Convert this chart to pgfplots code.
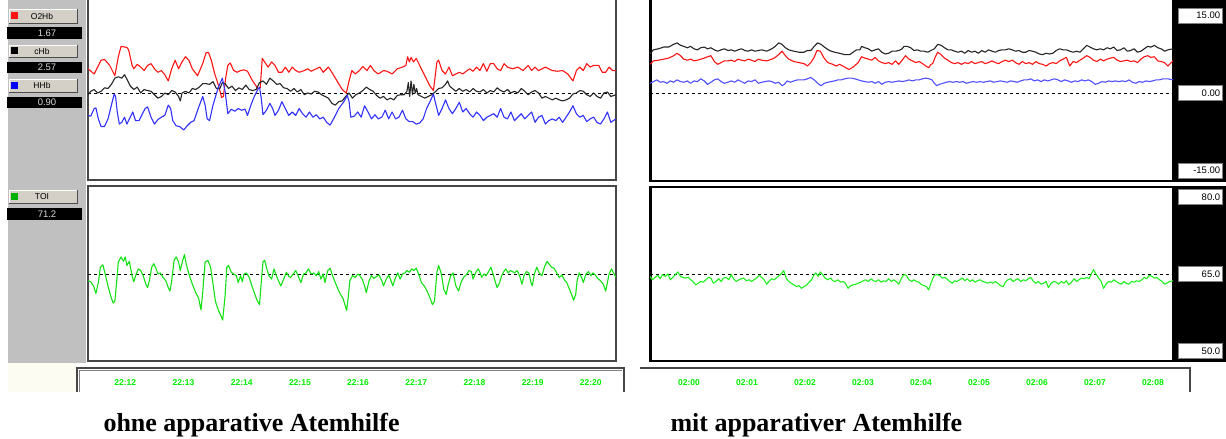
\documentclass[border=0pt]{standalone}
\usepackage{fontspec}
\setmainfont{Liberation Sans}
\newfontfamily\capfont{Liberation Serif}
\usepackage{pgfplots}
\usepackage{pgfplotstable}
\pgfplotsset{compat=1.18}
\definecolor{sidegray}{RGB}{192,192,192}
\definecolor{btngray}{RGB}{212,208,200}
\definecolor{o2red}{RGB}{255,20,20}
\definecolor{hhbblue}{RGB}{50,50,255}
\definecolor{hhbblueR}{RGB}{80,80,255}
\definecolor{toigreen}{RGB}{20,225,20}
\definecolor{toigreenR}{RGB}{30,240,30}
\definecolor{tickgreen}{RGB}{0,240,0}
\definecolor{frameL}{RGB}{70,70,70}
\definecolor{cream}{RGB}{252,252,242}

% ---------------- data (x = sample index, y = chart values) ----------------
\pgfplotstableread{
x y
12 4.67
30 3.67
50 6.33
60 6.47
75 5.33
90 3.33
100 7.00
108 9.00
125 8.80
130 8.33
140 5.33
145 4.67
155 5.53
165 5.00
175 4.33
185 5.33
195 5.67
205 4.67
215 4.00
225 4.33
235 3.53
245 2.33
255 4.67
265 6.33
275 4.67
285 6.00
295 7.00
305 6.33
315 4.67
330 3.33
345 5.67
355 7.80
362 7.80
370 6.33
380 3.67
390 1.67
400 -0.87
405 -0.67
412 3.00
418 5.33
425 5.80
435 4.33
445 4.00
455 4.33
465 4.47
475 4.20
490 2.33
505 0.87
512 1.00
518 6.67
525 6.00
535 5.00
545 6.00
555 5.33
565 4.00
575 4.00
585 5.00
595 4.00
605 5.00
615 4.33
625 4.00
640 4.33
650 4.67
660 4.20
670 4.53
685 5.00
695 4.00
710 5.00
720 4.00
735 2.33
750 0.67
762 0.00
770 2.33
778 4.33
788 3.67
800 4.33
810 5.13
822 4.33
832 5.33
842 4.33
855 3.67
870 4.33
880 4.20
895 3.67
910 4.67
925 5.00
935 5.33
940 7.00
945 6.00
950 6.87
957 6.00
965 6.67
975 5.33
990 3.33
1005 1.33
1015 0.47
1025 6.00
1030 6.33
1040 4.33
1050 3.67
1060 5.00
1070 3.33
1080 3.67
1090 4.00
1100 3.67
1110 4.20
1120 4.67
1130 4.20
1140 5.00
1150 4.33
1160 5.67
1170 4.20
1180 5.67
1190 5.67
1200 4.67
1210 4.33
1220 5.67
1230 5.00
1245 4.67
1260 5.00
1275 4.33
1290 5.33
1300 4.33
1310 5.00
1320 4.33
1340 5.00
1360 4.33
1375 4.20
1390 4.33
1405 3.67
1420 2.33
1430 4.33
1440 5.00
1450 4.33
1460 5.67
1470 5.00
1480 5.33
1495 5.33
1505 4.00
1515 4.00
1525 5.00
1535 4.33
1545 4.33
}\LeftOxy
\pgfplotstableread{
x y
12 -0.33
20 0.33
30 0.67
40 0.00
50 0.33
60 1.00
70 0.87
80 1.67
90 2.87
100 3.13
110 2.87
118 3.53
125 2.67
135 1.33
145 0.67
155 1.13
165 0.00
175 0.67
185 0.47
195 0.33
205 -0.33
215 -1.00
225 -0.67
235 0.00
245 -0.33
255 0.47
265 0.20
275 -0.67
280 -1.53
285 0.00
295 0.33
305 0.00
315 0.87
325 0.67
335 1.13
345 1.80
355 1.80
365 1.67
375 2.20
385 0.87
395 0.87
402 2.00
410 1.80
420 0.87
430 1.33
440 0.47
450 1.00
460 0.67
470 1.53
480 0.67
490 0.47
500 0.67
510 2.00
520 2.33
530 1.67
540 2.87
550 2.33
560 1.67
570 1.80
580 1.00
590 0.87
600 0.33
610 0.87
620 0.20
630 0.67
640 -0.33
650 0.00
660 -0.20
670 0.33
680 0.20
690 -0.33
700 -0.67
710 -1.00
720 -2.00
730 -2.33
740 -1.67
750 -1.53
760 -0.67
770 0.00
780 -1.00
790 -0.33
800 0.00
810 0.47
820 1.13
830 0.67
840 0.33
850 -0.47
860 -1.00
870 -0.67
880 -1.33
890 -1.00
900 -1.33
910 -0.47
920 -0.33
930 -0.33
938 0.33
942 2.00
946 -0.67
950 2.33
954 -0.33
958 1.67
962 0.00
966 0.87
970 -0.33
980 -0.67
990 -1.00
1000 -0.67
1010 -0.33
1020 0.20
1030 0.87
1040 1.00
1050 1.67
1056 2.33
1062 1.33
1070 0.87
1080 0.33
1090 0.87
1100 0.33
1110 0.67
1120 0.20
1130 0.87
1140 0.33
1150 0.20
1160 0.67
1170 0.00
1180 0.47
1190 0.20
1200 1.00
1210 0.47
1220 0.20
1230 0.67
1240 0.00
1250 0.33
1260 0.00
1270 0.87
1280 0.33
1290 -0.33
1300 0.20
1310 0.47
1320 0.00
1330 -1.00
1340 -0.67
1350 -1.00
1360 -1.33
1370 -1.00
1380 -1.33
1390 -1.53
1400 -1.33
1410 -1.00
1420 -0.20
1430 0.00
1440 0.47
1450 0.33
1460 -0.33
1470 -0.67
1480 0.00
1490 -0.67
1500 -1.00
1510 0.00
1520 0.20
1530 -0.67
1545 -0.33
}\LeftTot
\pgfplotstableread{
x y
12 -4.33
20 -4.47
30 -3.00
35 -2.87
42 -5.00
50 -6.47
60 -6.47
70 -5.00
80 -2.33
88 -0.20
92 -0.67
97 -3.67
103 -6.00
110 -5.67
118 -4.67
125 -6.00
132 -5.00
142 -3.67
150 -5.33
160 -5.33
170 -4.00
178 -3.00
185 -2.67
195 -4.67
205 -6.00
215 -5.13
225 -4.67
235 -4.33
245 -2.33
252 -3.00
258 -5.33
268 -6.33
278 -6.47
290 -7.13
300 -6.33
310 -5.67
320 -5.33
332 -3.00
345 -0.67
352 -2.33
358 -5.00
365 -5.33
375 -2.33
390 1.00
402 2.87
410 0.33
418 -4.00
428 -3.13
438 -3.53
448 -3.00
458 -3.33
468 -3.13
475 -4.33
485 -2.33
495 -0.67
505 0.67
510 1.13
515 -1.00
520 -4.20
530 -3.33
540 -2.00
548 -3.00
555 -4.33
565 -3.33
575 -1.67
585 -3.00
595 -4.33
605 -3.67
615 -4.33
625 -3.00
635 -4.00
645 -4.67
655 -3.67
665 -4.67
675 -4.20
685 -5.00
695 -4.67
705 -5.67
715 -6.20
725 -5.00
740 -3.00
755 -1.67
765 -0.47
770 -1.67
775 -4.67
785 -4.47
795 -3.67
805 -4.67
815 -2.47
825 -3.67
835 -5.00
845 -4.20
855 -5.00
865 -4.67
875 -3.33
885 -5.00
895 -3.67
905 -5.00
915 -4.67
925 -3.33
935 -5.00
945 -5.53
955 -5.53
965 -6.00
975 -5.80
985 -5.00
995 -3.00
1005 -1.67
1015 -0.20
1020 -1.67
1030 -4.33
1040 -3.00
1050 -1.33
1060 -3.00
1070 -4.00
1080 -3.00
1090 -1.80
1100 -3.67
1110 -3.00
1120 -4.00
1130 -4.67
1140 -3.67
1150 -4.33
1160 -5.33
1170 -4.67
1180 -4.33
1190 -4.00
1200 -4.67
1210 -3.00
1220 -4.67
1230 -5.00
1240 -3.67
1250 -5.33
1260 -4.67
1270 -4.00
1280 -5.00
1290 -4.33
1300 -3.67
1310 -5.67
1320 -4.67
1330 -4.33
1340 -6.00
1350 -5.33
1360 -5.00
1370 -5.33
1380 -4.67
1390 -5.67
1400 -4.67
1410 -3.67
1420 -2.47
1430 -4.00
1440 -4.67
1450 -4.33
1460 -5.53
1470 -5.00
1480 -4.67
1490 -5.67
1500 -6.00
1510 -5.00
1520 -3.67
1530 -5.67
1545 -5.00
}\LeftDeoxy
\pgfplotstableread{
x y
12 63.67
20 63.47
28 62.67
35 61.20
42 63.33
48 66.33
55 66.80
62 65.00
70 62.67
78 60.67
85 59.33
90 59.67
95 63.33
100 67.33
108 68.33
115 67.47
120 68.33
125 66.67
132 67.47
140 64.67
145 63.47
152 65.00
158 66.00
165 65.67
172 64.67
180 63.00
185 62.33
190 63.67
197 66.33
203 67.00
210 66.00
215 65.00
222 65.20
230 64.33
238 63.67
245 62.33
250 61.67
255 63.67
262 67.67
268 68.33
275 67.33
280 65.67
287 67.67
292 68.80
297 67.00
305 65.00
315 63.00
325 61.33
333 60.33
340 58.00
345 61.33
352 67.33
360 67.67
368 66.33
375 63.00
382 59.67
390 58.00
397 57.00
403 56.00
410 60.67
415 66.33
420 66.67
428 65.33
435 65.00
443 64.67
448 63.33
455 64.67
460 63.47
465 65.00
472 65.20
480 64.33
488 62.67
495 61.33
502 60.00
510 59.00
515 63.33
520 67.33
525 67.67
530 66.33
537 64.67
545 64.00
552 66.00
557 65.00
565 63.67
572 62.67
580 64.00
588 65.33
595 64.53
600 64.33
608 65.00
615 65.67
622 64.67
630 63.33
638 65.00
645 65.20
652 66.00
660 65.00
668 65.20
675 64.67
682 65.47
688 64.00
695 65.00
700 63.33
708 65.67
715 66.13
722 64.67
730 63.33
738 62.00
745 61.00
752 60.33
758 59.00
763 57.87
768 60.67
772 63.67
780 64.67
788 64.33
795 65.00
800 64.80
808 64.00
815 62.67
820 61.33
828 63.67
835 64.67
842 64.13
850 64.53
857 64.80
865 63.67
870 62.67
878 64.00
885 64.80
890 64.00
897 62.67
905 64.33
912 65.20
918 64.00
925 65.00
932 65.20
938 65.67
945 65.33
952 66.00
958 65.67
965 66.13
972 65.00
980 63.33
988 62.67
995 61.87
1005 60.33
1012 59.00
1018 59.67
1025 65.33
1030 66.67
1038 65.00
1045 62.00
1052 61.00
1058 63.00
1065 64.67
1072 65.20
1080 62.67
1088 61.67
1095 63.33
1102 64.33
1110 64.80
1118 65.67
1125 65.47
1130 64.00
1138 65.33
1145 66.00
1150 65.33
1155 64.33
1162 65.00
1168 64.67
1175 65.47
1182 66.33
1188 65.00
1195 63.33
1200 62.33
1207 63.33
1213 64.67
1218 65.33
1225 66.00
1232 65.20
1238 65.67
1245 65.47
1250 65.20
1258 65.67
1265 64.67
1272 63.00
1278 64.67
1285 65.47
1292 65.20
1298 63.33
1302 62.67
1308 65.00
1315 66.33
1322 65.20
1330 64.67
1338 66.53
1345 67.47
1350 67.00
1358 66.33
1365 66.13
1372 65.33
1380 64.33
1388 64.80
1395 63.87
1402 63.33
1410 62.00
1418 60.67
1422 59.87
1428 61.00
1432 63.67
1438 65.20
1445 64.33
1450 63.33
1458 65.00
1465 65.47
1472 64.67
1478 65.20
1485 64.80
1492 64.13
1500 63.67
1508 63.00
1515 61.67
1520 63.33
1525 65.00
1532 66.00
1538 65.20
1545 64.33
}\LeftTOI
\pgfplotstableread{
x y
15 7.53
25 8.33
40 8.53
55 8.87
70 8.87
85 9.40
95 9.67
105 9.20
115 9.00
125 8.73
135 9.00
145 8.53
155 8.33
165 8.73
175 8.87
185 8.53
195 8.73
205 8.33
215 8.07
225 8.33
235 8.53
245 8.20
255 8.33
265 8.07
275 8.33
285 8.53
295 8.20
305 8.07
315 8.33
325 8.07
335 8.20
345 8.33
360 8.07
375 8.53
385 9.00
395 9.67
405 9.40
415 8.73
425 8.33
440 8.07
455 7.87
470 7.87
480 8.20
490 8.20
500 9.00
510 9.67
520 9.40
530 8.87
545 8.20
560 7.87
575 7.67
590 7.40
605 7.40
615 7.87
625 8.33
635 8.33
640 9.00
650 8.73
660 8.53
670 8.07
680 8.33
690 8.53
700 7.87
710 7.53
720 7.67
730 8.07
740 8.07
750 8.20
760 8.53
765 9.00
775 9.00
785 8.73
795 8.20
805 8.33
815 8.07
825 8.07
835 7.87
845 8.20
855 8.53
865 9.40
875 9.20
885 8.73
895 8.33
905 8.33
915 8.07
925 7.87
935 8.07
945 7.67
955 8.20
965 7.87
975 8.07
985 7.67
995 8.20
1005 7.87
1015 8.33
1025 8.07
1035 7.87
1045 8.20
1055 8.33
1065 8.33
1075 8.53
1085 8.33
1095 8.07
1105 8.20
1115 7.87
1125 7.87
1135 8.20
1145 8.07
1155 7.87
1165 7.53
1175 7.40
1185 7.67
1195 7.53
1205 7.67
1215 8.20
1225 8.53
1235 8.33
1245 8.33
1255 8.07
1265 7.87
1275 8.07
1285 7.87
1295 8.53
1305 9.20
1315 8.87
1325 8.53
1335 8.33
1345 8.53
1355 8.33
1365 8.73
1375 8.53
1385 8.87
1395 8.20
1405 8.33
1415 8.73
1425 8.07
1435 8.20
1445 8.53
1455 7.87
1465 8.07
1475 8.53
1485 9.00
1495 8.87
1505 9.20
1515 8.73
1525 8.53
1535 8.07
1545 8.33
1560 8.53
}\RightTot
\pgfplotstableread{
x y
15 5.53
25 6.20
40 6.33
55 6.53
70 6.73
85 7.20
95 7.67
105 7.20
115 6.53
125 6.33
135 6.53
145 6.20
155 6.33
165 6.53
175 6.73
185 7.00
195 7.20
205 6.07
215 5.53
225 5.87
235 6.20
245 6.20
255 6.33
265 6.07
275 6.53
285 6.33
295 6.20
305 6.53
315 6.33
325 6.07
335 6.53
345 6.33
360 6.20
375 6.53
385 6.87
395 7.40
405 8.07
415 7.20
425 6.53
440 6.07
455 5.87
470 5.67
480 5.20
490 5.87
500 6.87
508 8.20
518 8.07
528 6.87
540 5.87
555 5.53
565 5.20
575 5.53
590 5.00
603 4.53
615 5.00
630 5.87
640 7.00
650 6.73
660 6.53
670 6.33
680 6.87
690 6.20
700 5.87
710 5.67
720 5.87
730 5.53
740 6.20
750 5.53
760 6.33
770 7.20
780 6.53
790 6.20
800 5.87
810 6.07
820 5.67
830 5.20
838 4.87
845 5.53
850 5.67
858 7.00
865 7.87
875 7.40
885 6.73
895 6.33
905 5.87
915 5.67
925 5.87
935 5.53
945 5.87
955 5.67
965 6.07
975 5.67
985 5.87
995 6.07
1005 5.67
1015 5.87
1025 6.20
1035 5.87
1045 5.67
1055 6.07
1065 6.33
1075 6.07
1085 6.33
1095 5.87
1105 5.53
1115 6.07
1125 5.67
1135 5.87
1145 5.53
1155 6.07
1165 5.67
1175 5.53
1185 5.20
1195 5.67
1205 5.87
1215 5.67
1225 6.20
1235 6.53
1245 6.87
1255 5.20
1265 6.07
1275 5.87
1285 6.33
1295 6.73
1305 7.20
1315 6.87
1325 6.33
1335 6.07
1345 6.53
1355 6.20
1365 6.53
1375 6.73
1385 6.87
1395 6.33
1405 6.07
1415 6.20
1425 6.33
1435 6.07
1445 6.20
1455 5.87
1465 6.53
1475 7.00
1485 7.20
1495 6.87
1505 7.00
1515 6.20
1525 6.07
1535 5.87
1545 5.20
1560 6.20
}\RightOxy
\pgfplotstableread{
x y
15 1.87
25 2.20
35 2.53
45 2.07
55 2.20
65 1.87
75 2.33
85 2.07
95 2.53
105 2.20
115 2.07
125 2.33
135 1.87
145 2.33
155 2.20
165 2.73
175 2.33
185 1.67
195 2.07
205 2.53
215 2.73
225 2.20
235 1.87
245 2.07
255 2.33
265 2.07
275 2.53
285 2.20
295 1.87
305 2.33
315 2.20
325 2.53
335 1.87
345 2.07
355 2.20
365 2.33
375 2.20
385 1.87
395 2.07
405 1.40
412 1.67
420 2.33
430 2.07
440 2.33
450 2.53
460 2.53
470 2.53
480 2.73
490 3.00
500 2.53
510 1.87
520 1.40
530 1.87
540 2.07
550 2.20
560 2.33
570 2.53
580 2.53
590 2.73
600 2.87
610 2.87
620 2.73
630 2.53
640 2.33
650 2.20
660 2.07
670 2.20
680 1.87
690 2.20
700 1.67
710 2.07
720 2.20
730 2.07
740 2.20
750 2.33
760 2.20
770 2.33
780 2.53
790 2.33
800 2.53
810 2.53
820 2.73
830 2.87
840 2.73
848 2.53
855 1.87
862 1.40
870 1.67
880 1.87
890 2.07
900 2.20
910 2.07
920 2.20
930 2.07
940 2.20
950 1.87
960 2.07
970 2.20
980 2.07
990 2.20
1000 2.07
1010 2.20
1020 2.33
1030 2.07
1040 2.20
1050 2.33
1060 2.20
1070 2.07
1080 2.33
1090 2.20
1100 2.07
1110 2.33
1120 2.53
1130 2.53
1140 2.73
1150 2.33
1160 2.53
1170 2.20
1180 2.53
1190 2.33
1200 2.53
1210 2.73
1220 2.53
1230 2.20
1240 2.53
1250 2.33
1260 2.07
1270 2.33
1280 2.20
1290 2.53
1300 2.33
1310 2.53
1320 2.20
1330 1.67
1340 1.87
1350 2.20
1360 2.07
1370 2.33
1380 2.20
1390 2.33
1400 2.20
1410 2.33
1420 2.20
1430 2.53
1440 2.07
1450 1.87
1460 2.20
1470 2.07
1480 2.33
1490 2.20
1500 2.33
1510 2.53
1520 2.53
1530 2.73
1545 2.73
1560 2.53
}\RightDeoxy
\pgfplotstableread{
x y
15 64.53
22 63.87
30 64.33
38 64.73
45 64.07
52 64.87
60 64.53
68 65.00
75 63.87
82 64.33
90 64.87
97 65.40
105 64.53
112 64.33
120 64.20
128 64.33
135 63.87
142 63.53
150 62.87
158 63.20
165 63.53
172 63.40
180 63.87
188 64.33
195 64.20
202 63.20
210 63.53
218 64.07
225 63.53
232 64.20
240 64.33
248 63.87
255 64.87
262 64.07
270 63.53
278 63.87
285 64.07
292 64.20
300 63.67
308 63.87
315 63.53
322 63.87
330 64.20
338 64.73
345 64.33
352 63.87
360 63.00
368 63.67
375 64.07
382 63.87
390 64.33
398 64.73
405 65.20
410 65.67
418 64.07
425 63.53
432 63.20
440 62.87
448 62.53
455 62.73
462 62.20
470 62.53
478 62.87
485 63.40
492 63.87
500 64.87
505 65.20
512 64.53
518 65.40
525 64.87
532 64.20
540 63.87
548 64.20
555 63.67
562 63.53
570 63.87
578 63.40
585 63.53
592 63.20
600 62.20
608 62.73
615 62.87
622 63.00
630 63.20
638 63.40
645 63.67
652 63.87
660 63.53
668 64.07
675 63.67
682 63.53
690 63.87
698 63.40
705 63.67
712 63.53
720 64.07
728 63.53
735 63.87
742 63.53
750 63.00
758 64.20
765 64.87
772 64.73
780 63.87
788 63.53
795 63.87
802 63.53
810 63.40
818 62.87
825 62.73
832 62.53
838 61.87
845 63.20
850 64.07
855 64.73
862 64.87
870 64.73
878 64.20
885 64.33
892 64.07
900 63.53
908 63.20
915 63.67
922 63.53
930 63.87
938 64.20
945 63.67
952 64.07
960 63.53
968 63.87
975 63.40
982 63.67
990 63.87
998 63.53
1005 63.40
1012 63.20
1020 63.40
1028 63.20
1035 63.53
1042 63.20
1050 62.73
1058 62.53
1065 63.40
1072 63.87
1080 64.07
1088 63.53
1095 63.87
1102 64.07
1110 63.53
1118 63.87
1125 63.67
1132 64.07
1140 64.33
1148 63.53
1155 63.20
1162 63.53
1170 63.00
1178 63.20
1185 63.53
1192 62.33
1200 63.20
1208 63.53
1215 63.40
1222 63.00
1230 63.53
1238 63.20
1245 63.67
1252 62.87
1260 63.40
1268 64.07
1275 63.53
1282 63.87
1290 64.20
1298 64.07
1305 64.33
1312 64.07
1318 64.87
1325 65.87
1332 65.00
1340 64.20
1348 63.53
1355 62.20
1362 63.00
1370 63.53
1378 63.40
1385 63.87
1392 63.53
1400 63.20
1408 63.00
1415 63.53
1422 63.20
1430 63.00
1438 63.53
1445 63.40
1452 63.67
1460 63.53
1468 63.87
1475 64.33
1482 64.07
1490 64.73
1498 64.53
1505 64.20
1512 64.33
1520 63.87
1528 63.53
1535 63.00
1542 63.20
1550 63.53
1560 63.67
}\RightTOI

\pgfplotsset{
  panel/.style={scale only axis, anchor=south west, xtick=\empty, ytick=\empty,
    clip=true, axis line style={line width=1.3pt}},
  leftp/.style={panel, axis line style={draw=frameL, line width=1.6pt}, xmin=12, xmax=1545},
  rightp/.style={panel, axis line style={draw=black, line width=1.3pt}, xmin=15, xmax=1560,
    yticklabel pos=right, major tick length=0pt, tick style={draw=none},
    yticklabel style={anchor=west, xshift=5pt, draw=gray, fill=white, inner sep=2pt,
      text width=40pt, align=right, minimum height=15pt,
      font=\fontsize{9.5}{10}\selectfont}},
  series/.style={line width=1.1pt, line join=round, mark=none},
  zero/.style={black, dash pattern=on 3pt off 3pt, line width=0.6pt, mark=none},
  timeax/.style={scale only axis, anchor=south west, height=24pt, ymin=0, ymax=1,
    ytick=\empty, axis line style={draw=none}, major tick length=0pt,
    tick style={draw=none}, xtick={0,...,8},
    xticklabel style={anchor=center, yshift=9pt, text=tickgreen,
      font=\bfseries\fontsize{8.5}{9}\selectfont}},
}

\newcommand\btn[4]{%
  \fill[btngray] (9,#1) rectangle (77,#2);
  \draw[white, line width=0.8pt] (9,#2) -- (9,#1) -- (77,#1);
  \draw[gray!60!black, line width=0.8pt] (9,#2) -- (77,#2) -- (77,#1);
  \fill[#3] (11,{(#1+#2)/2-3.5}) rectangle (18,{(#1+#2)/2+3.5});
  \node[font=\fontsize{8.5}{9}\selectfont] at (42,{(#1+#2)/2}) {#4};}
\newcommand\val[3]{%
  \fill[black] (7,#1) rectangle (82,#2);
  \node[white!85!black, font=\fontsize{9.5}{10}\selectfont] at (47,{(#1+#2)/2}) {#3};}

\begin{document}
\begin{tikzpicture}[x=1pt,y=1pt]
\useasboundingbox (0,0) rectangle (1226,439);
\fill[white] (0,0) rectangle (1226,439);
\begin{scope}[yshift=439pt, yscale=-1]
  % sidebar
  \fill[sidegray] (8,0) rectangle (86,363);
  \fill[cream] (8,363) rectangle (77,392);
  \btn{9}{23}{o2red}{O2Hb}
  \val{27}{39}{1.67}
  \btn{45}{57}{black}{cHb}
  \val{62}{73}{2.57}
  \btn{79}{92}{blue}{HHb}
  \val{97}{108}{0.90}
  \btn{190}{203}{green!70!black}{TOI}
  \val{208}{220}{71.2}
  % right black strip
  \fill[black] (1174,0) rectangle (1226,182);
  \fill[black] (1174,186) rectangle (1226,362);
  % time boxes
  \draw[frameL, line width=1.5pt] (77,392) -- (77,368) -- (624,368) -- (624,392);
  \draw[gray, line width=0.6pt] (79,392) -- (79,370) -- (622,370);
  \draw[frameL, line width=1.2pt] (640,368) -- (1190,368) -- (1190,392);
  % thicker left borders of the right panels
  \draw[black, line width=2.4pt] (650.5,0) -- (650.5,182);
  \draw[black, line width=2.4pt] (650.5,186) -- (650.5,362);
\end{scope}

% left top panel
\begin{axis}[leftp, at={(88pt,259pt)}, width=528pt, height=184pt, ymin=-16.8, ymax=18.73]
  \addplot[zero] coordinates {(12,0) (1545,0)};
  \addplot[series, color=o2red] table {\LeftOxy};
  \addplot[series, color=black!85] table {\LeftTot};
  \addplot[series, color=hhbblue] table {\LeftDeoxy};
\end{axis}
% left bottom panel
\begin{axis}[leftp, at={(88pt,78pt)}, width=528pt, height=175pt, ymin=48.0, ymax=82.19]
  \addplot[zero] coordinates {(12,65) (1545,65)};
  \addplot[series, color=toigreen] table {\LeftTOI};
\end{axis}
% right top panel
\begin{axis}[rightp, at={(650pt,258pt)}, width=523pt, height=185pt, ymin=-17.0, ymax=18.73,
    ytick={-15,0,15}, yticklabels={-15.00,0.00,15.00}]
  \addplot[zero] coordinates {(15,0) (1560,0)};
  \addplot[series, color=black!85] table {\RightTot};
  \addplot[series, color=o2red] table {\RightOxy};
  \addplot[series, color=hhbblueR] table {\RightDeoxy};
\end{axis}
% right bottom panel
\begin{axis}[rightp, at={(650pt,78pt)}, width=523pt, height=174pt, ymin=48.0, ymax=81.99,
    ytick={50,65,80}, yticklabels={50.0,65.0,80.0}]
  \addplot[zero] coordinates {(15,65) (1560,65)};
  \addplot[series, color=toigreenR] table {\RightTOI};
\end{axis}
% time axes
\begin{axis}[timeax, at={(77pt,47pt)}, width=547pt, xmin=11.17, xmax=20.57,
    xtick={12,...,20},
    xticklabels={22:12,22:13,22:14,22:15,22:16,22:17,22:18,22:19,22:20}]
\end{axis}
\begin{axis}[timeax, at={(640pt,47pt)}, width=550pt, xmin=-0.845, xmax=8.64,
    xticklabels={02:00,02:01,02:02,02:03,02:04,02:05,02:06,02:07,02:08}]
\end{axis}

% captions
\node[anchor=base west, font={\capfont\bfseries\fontsize{26}{30}\selectfont}] at (100,8) {ohne apparative Atemhilfe};
\node[anchor=base west, font={\capfont\bfseries\fontsize{26}{30}\selectfont}] at (667,8) {mit apparativer Atemhilfe};
\end{tikzpicture}
\end{document}
